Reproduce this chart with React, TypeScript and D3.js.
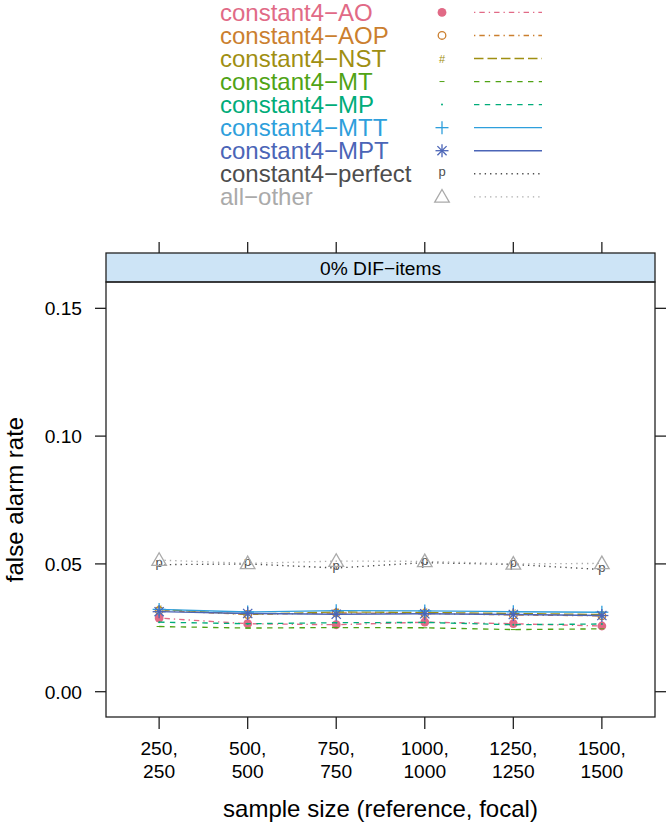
import React from 'react';
import * as d3 from 'd3';

// ---------- data ----------
const tickTop = ["250,", "500,", "750,", "1000,", "1250,", "1500,"];
const tickBottom = ["250", "500", "750", "1000", "1250", "1500"];
const yTicks = [0.0, 0.05, 0.10, 0.15];
const yTickLabels = ["0.00", "0.05", "0.10", "0.15"];

const seriesNames = [
  "constant4\u2212AO",
  "constant4\u2212AOP",
  "constant4\u2212NST",
  "constant4\u2212MT",
  "constant4\u2212MP",
  "constant4\u2212MTT",
  "constant4\u2212MPT",
  "constant4\u2212perfect",
  "all\u2212other",
];

const AO = [0.0288, 0.0266, 0.0262, 0.0272, 0.0266, 0.0257];
const AOP = [0.0318, 0.0302, 0.0308, 0.0306, 0.0300, 0.0297];
const NST = [0.0322, 0.0303, 0.0312, 0.0310, 0.0306, 0.0302];
const MT = [0.0255, 0.0249, 0.0251, 0.0250, 0.0243, 0.0246];
const MP = [0.0272, 0.0266, 0.0270, 0.0271, 0.0262, 0.0265];
const MTT = [0.0322, 0.0312, 0.0317, 0.0316, 0.0313, 0.0311];
const MPT = [0.0313, 0.0306, 0.0303, 0.0305, 0.0302, 0.0298];
const PERFECT = [0.0497, 0.0500, 0.0484, 0.0505, 0.0498, 0.0478];
const ALLOTHER = [0.0515, 0.0502, 0.0511, 0.0510, 0.0500, 0.0502];

const seriesValues = [AO, AOP, NST, MT, MP, MTT, MPT, PERFECT, ALLOTHER];

const stripLabel = "0% DIF\u2212items";
const xTitle = "sample size (reference, focal)";
const yTitle = "false alarm rate";

// ---------- styles ----------
const colors = ["#E16A86", "#CB7F2F", "#9F8F12", "#50A315", "#00AC79", "#2E9FDC", "#4B65B7", "#4D4D4D", "#AAAAAA"];
const dashes = ["1.35,4,5.4,4", "1.35,4,5.4,4", "9.5,4", "5.4,5.4", "5.4,5.4", "", "", "1.35,4", "1.35,4"];
const pchs = ["dot", "circle", "#", "-", ".", "plus", "star", "p", "triangle"];

const FONT = "'Liberation Sans', Arial, Helvetica, sans-serif";

function Marker({ type, cx, cy, color }: { type: string; cx: number; cy: number; color: string }) {
  switch (type) {
    case "dot":
      return <circle cx={cx} cy={cy} r={4.4} fill={color} />;
    case "circle":
      return <circle cx={cx} cy={cy} r={3.8} fill="none" stroke={color} strokeWidth={1.3} />;
    case "#":
      return <text x={cx} y={cy + 4} fontSize={11} fill={color} textAnchor="middle" fontFamily={FONT}>#</text>;
    case "-":
      return <line x1={cx - 2.5} x2={cx + 2.5} y1={cy} y2={cy} stroke={color} strokeWidth={1} />;
    case ".":
      return <circle cx={cx} cy={cy} r={1} fill={color} />;
    case "plus":
      return (
        <g stroke={color} strokeWidth={1.3}>
          <line x1={cx - 6.5} x2={cx + 6.5} y1={cy} y2={cy} />
          <line x1={cx} x2={cx} y1={cy - 6.5} y2={cy + 6.5} />
        </g>
      );
    case "star": {
      const d = 4.6;
      return (
        <g stroke={color} strokeWidth={1.3}>
          <line x1={cx - 6.5} x2={cx + 6.5} y1={cy} y2={cy} />
          <line x1={cx} x2={cx} y1={cy - 6.5} y2={cy + 6.5} />
          <line x1={cx - d} x2={cx + d} y1={cy - d} y2={cy + d} />
          <line x1={cx - d} x2={cx + d} y1={cy + d} y2={cy - d} />
        </g>
      );
    }
    case "p":
      return <text x={cx} y={cy + 2.5} fontSize={13} fill={color} textAnchor="middle" fontFamily={FONT}>p</text>;
    case "triangle":
      return (
        <path
          d={`M${cx},${cy - 7.3}L${cx + 7.3},${cy + 5.3}L${cx - 7.3},${cy + 5.3}Z`}
          fill="none"
          stroke={color}
          strokeWidth={1.3}
        />
      );
    default:
      return null;
  }
}

export default function App() {
  const W = 667, H = 826;
  const left = 106, right = 655, top = 282, bottom = 717;
  const stripTop = 253;

  const x = d3.scaleLinear().domain([-0.6, 5.6]).range([left, right]);
  const y = d3.scaleLinear().domain([-0.0099, 0.1603]).range([bottom, top]);
  const line = d3.line<number>().x((_, i) => x(i)).y((v) => y(v));

  const legendY0 = 12.4, legendStep = 23.05;

  return (
    <svg width={W} height={H} style={{ position: 'absolute', left: 0, top: 0, background: '#fff' }} fontFamily={FONT}>
      {/* legend */}
      {seriesNames.map((name, i) => {
        const cy = legendY0 + i * legendStep;
        return (
          <g key={name}>
            <text x={220} y={cy + 8.4} fontSize={24} fill={colors[i]}>{name}</text>
            <Marker type={pchs[i]} cx={442} cy={cy} color={colors[i]} />
            <line x1={474} x2={542} y1={cy} y2={cy} stroke={colors[i]} strokeWidth={1.35} strokeDasharray={dashes[i] || undefined} />
          </g>
        );
      })}

      {/* strip */}
      <rect x={left} y={stripTop} width={right - left} height={top - stripTop} fill="#CDE4F6" stroke="#222" strokeWidth={1.3} />
      <text x={(left + right) / 2} y={275} fontSize={19.2} textAnchor="middle" fill="#000">{stripLabel}</text>

      {/* series */}
      {seriesValues.map((vals, i) => (
        <g key={i}>
          <path d={line(vals) || ''} fill="none" stroke={colors[i]} strokeWidth={1.35} strokeDasharray={dashes[i] || undefined} />
          {vals.map((v, j) => (
            <Marker key={j} type={pchs[i]} cx={x(j)} cy={y(v)} color={colors[i]} />
          ))}
        </g>
      ))}

      {/* panel border */}
      <rect x={left} y={top} width={right - left} height={bottom - top} fill="none" stroke="#222" strokeWidth={1.3} />

      {/* x ticks */}
      {tickTop.map((t, i) => (
        <g key={t}>
          <line x1={x(i)} x2={x(i)} y1={bottom} y2={bottom + 12} stroke="#222" strokeWidth={1.3} />
          <line x1={x(i)} x2={x(i)} y1={stripTop} y2={stripTop - 11} stroke="#222" strokeWidth={1.3} />
          <text x={x(i)} y={755} fontSize={19.2} textAnchor="middle" fill="#000">{t}</text>
          <text x={x(i)} y={778} fontSize={19.2} textAnchor="middle" fill="#000">{tickBottom[i]}</text>
        </g>
      ))}

      {/* y ticks */}
      {yTicks.map((t, i) => (
        <g key={t}>
          <line x1={left - 11} x2={left} y1={y(t)} y2={y(t)} stroke="#222" strokeWidth={1.3} />
          <line x1={right} x2={right + 11} y1={y(t)} y2={y(t)} stroke="#222" strokeWidth={1.3} />
          <text x={82} y={y(t) + 7} fontSize={19.2} textAnchor="end" fill="#000">{yTickLabels[i]}</text>
        </g>
      ))}

      {/* axis titles */}
      <text x={(left + right) / 2} y={817} fontSize={24} textAnchor="middle" fill="#000">{xTitle}</text>
      <text transform={`translate(22.5, ${(top + bottom) / 2}) rotate(-90)`} fontSize={24} textAnchor="middle" fill="#000">{yTitle}</text>
    </svg>
  );
}
